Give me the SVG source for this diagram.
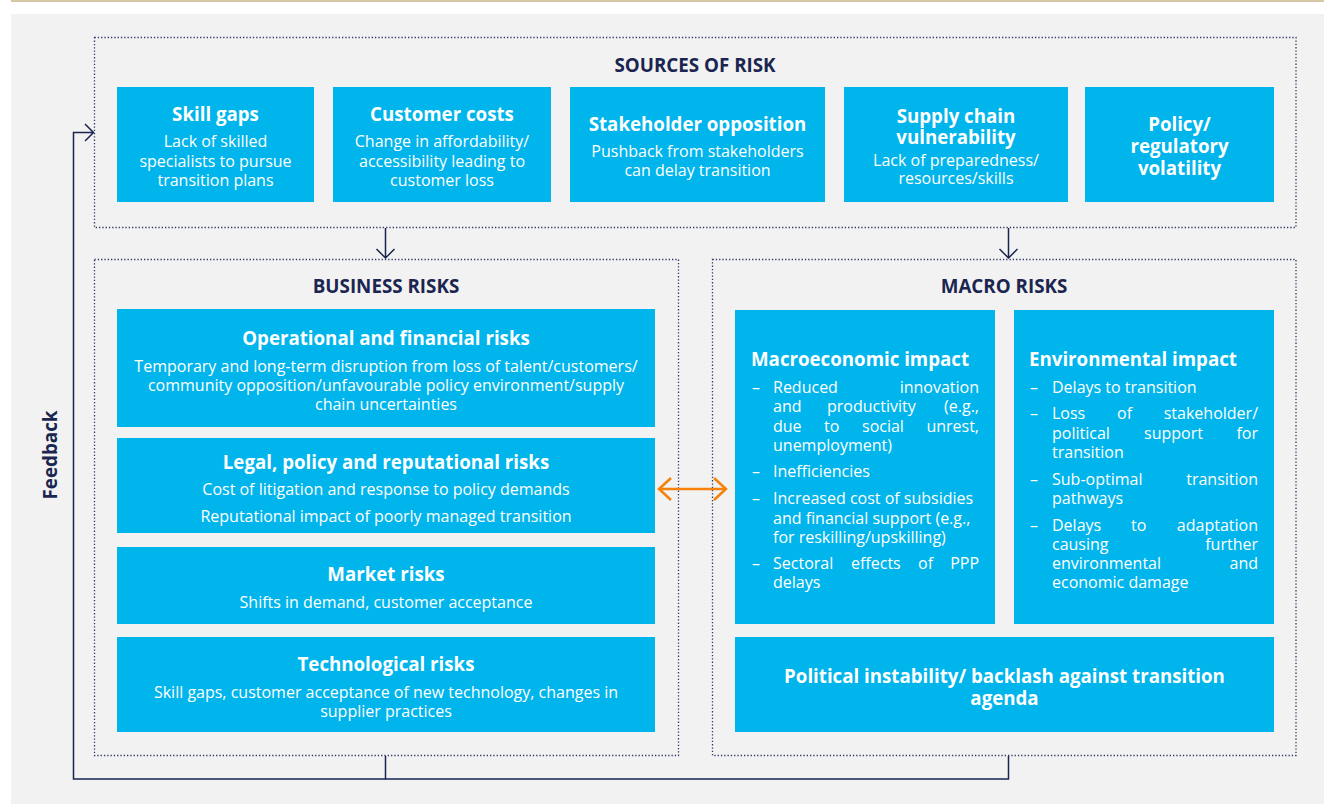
<svg xmlns="http://www.w3.org/2000/svg" width="1324" height="810" viewBox="0 0 1324 810">
<defs>
<style>
.box{fill:#00b5ec}
.frame{fill:none;stroke:#2e3766;stroke-width:1.3;stroke-dasharray:1.3 2}
.hd{font-family:"Open Sans","Noto Sans",sans-serif;font-weight:700;font-size:18.8px;fill:#1a2550;text-anchor:middle}
.tt{font-family:"Open Sans","Noto Sans",sans-serif;font-weight:700;font-size:18.7px;fill:#ffffff;text-anchor:middle}
.tl{font-family:"Open Sans","Noto Sans",sans-serif;font-weight:700;font-size:18.7px;fill:#ffffff}
.bd{font-family:"Open Sans","Noto Sans",sans-serif;font-size:16px;fill:#ffffff;text-anchor:middle}
.bl{font-family:"Open Sans","Noto Sans",sans-serif;font-size:16px;fill:#ffffff}
.ln{fill:none;stroke:#1a2550;stroke-width:1.5}
.or{fill:none;stroke:#f5820a;stroke-width:2.5}
</style>
</defs>
<rect x="11" y="14" width="1313" height="790" fill="#f2f2f2"/>
<line x1="11" y1="1" x2="1324" y2="1" stroke="#c8b48a" stroke-width="1.5"/>

<g id="sources">
<rect class="frame" x="94.5" y="37.5" width="1201.5" height="190"/>
<text class="hd" x="695" y="72">SOURCES OF RISK</text>
</g>
<g id="skill-gaps">
<rect class="box" x="117" y="87" width="197" height="115"/>
<text class="tt" x="215.5" y="121">Skill gaps</text>
<text class="bd" x="215.5" y="147">Lack of skilled</text>
<text class="bd" x="215.5" y="167">specialists to pursue</text>
<text class="bd" x="215.5" y="186">transition plans</text>
</g>
<g id="customer-costs">
<rect class="box" x="333" y="87" width="218" height="115"/>
<text class="tt" x="442" y="121">Customer costs</text>
<text class="bd" x="442" y="147">Change in affordability/</text>
<text class="bd" x="442" y="167">accessibility leading to</text>
<text class="bd" x="442" y="186">customer loss</text>
</g>
<g id="stakeholder-opposition">
<rect class="box" x="570" y="87" width="255" height="115"/>
<text class="tt" x="697.5" y="131">Stakeholder opposition</text>
<text class="bd" x="697.5" y="157">Pushback from stakeholders</text>
<text class="bd" x="697.5" y="176">can delay transition</text>
</g>
<g id="supply-chain">
<rect class="box" x="844" y="87" width="224" height="115"/>
<text class="tt" x="956" y="123">Supply chain</text>
<text class="tt" x="956" y="144">vulnerability</text>
<text class="bd" x="956" y="166">Lack of preparedness/</text>
<text class="bd" x="956" y="184">resources/skills</text>
</g>
<g id="policy-volatility">
<rect class="box" x="1085" y="87" width="189" height="115"/>
<text class="tt" x="1179.5" y="131">Policy/</text>
<text class="tt" x="1179.5" y="153">regulatory</text>
<text class="tt" x="1179.5" y="175">volatility</text>
</g>

<g id="business-risks">
<rect class="frame" x="94.5" y="259.5" width="584" height="496"/>
<text class="hd" x="386" y="293">BUSINESS RISKS</text>
</g>
<g id="operational">
<rect class="box" x="117" y="309" width="538" height="118"/>
<text class="tt" x="386" y="345">Operational and financial risks</text>
<text class="bd" x="386" y="372">Temporary and long-term disruption from loss of talent/customers/</text>
<text class="bd" x="386" y="391">community opposition/unfavourable policy environment/supply</text>
<text class="bd" x="386" y="410">chain uncertainties</text>
</g>
<g id="legal">
<rect class="box" x="117" y="438" width="538" height="95"/>
<text class="tt" x="386" y="469">Legal, policy and reputational risks</text>
<text class="bd" x="386" y="495">Cost of litigation and response to policy demands</text>
<text class="bd" x="386" y="522">Reputational impact of poorly managed transition</text>
</g>
<g id="market">
<rect class="box" x="117" y="547" width="538" height="77"/>
<text class="tt" x="386" y="581">Market risks</text>
<text class="bd" x="386" y="608">Shifts in demand, customer acceptance</text>
</g>
<g id="technological">
<rect class="box" x="117" y="637" width="538" height="95"/>
<text class="tt" x="386" y="671">Technological risks</text>
<text class="bd" x="386" y="698">Skill gaps, customer acceptance of new technology, changes in</text>
<text class="bd" x="386" y="717">supplier practices</text>
</g>

<g id="macro-risks">
<rect class="frame" x="712.5" y="259.5" width="583.5" height="496"/>
<text class="hd" x="1004" y="293">MACRO RISKS</text>
</g>
<g id="macroeconomic">
<rect class="box" x="735" y="310" width="260" height="314"/>
<text class="tl" x="751" y="366">Macroeconomic impact</text>
<text class="bl" x="752" y="393">–</text>
<text class="bl" y="393"><tspan x="773">Reduced</tspan><tspan x="979" text-anchor="end">innovation</tspan></text>
<text class="bl" y="412"><tspan x="773">and</tspan><tspan x="827">productivity</tspan><tspan x="979" text-anchor="end">(e.g.,</tspan></text>
<text class="bl" y="432"><tspan x="773">due</tspan><tspan x="824">to</tspan><tspan x="862">social</tspan><tspan x="979" text-anchor="end">unrest,</tspan></text>
<text class="bl" x="773" y="451">unemployment)</text>
<text class="bl" x="752" y="477">–</text>
<text class="bl" x="773" y="477">Inefficiencies</text>
<text class="bl" x="752" y="504">–</text>
<text class="bl" x="773" y="504">Increased cost of subsidies</text>
<text class="bl" x="773" y="524">and financial support (e.g.,</text>
<text class="bl" x="773" y="543">for reskilling/upskilling)</text>
<text class="bl" x="752" y="569">–</text>
<text class="bl" y="569"><tspan x="773">Sectoral</tspan><tspan x="851">effects</tspan><tspan x="918">of</tspan><tspan x="979" text-anchor="end">PPP</tspan></text>
<text class="bl" x="773" y="588">delays</text>
</g>
<g id="environmental">
<rect class="box" x="1014" y="310" width="260" height="314"/>
<text class="tl" x="1029" y="366">Environmental impact</text>
<text class="bl" x="1030" y="393">–</text>
<text class="bl" x="1052" y="393">Delays to transition</text>
<text class="bl" x="1030" y="419">–</text>
<text class="bl" y="419"><tspan x="1052">Loss</tspan><tspan x="1117">of</tspan><tspan x="1258" text-anchor="end">stakeholder/</tspan></text>
<text class="bl" y="439"><tspan x="1052">political</tspan><tspan x="1144">support</tspan><tspan x="1258" text-anchor="end">for</tspan></text>
<text class="bl" x="1052" y="458">transition</text>
<text class="bl" x="1030" y="485">–</text>
<text class="bl" y="485"><tspan x="1052">Sub-optimal</tspan><tspan x="1258" text-anchor="end">transition</tspan></text>
<text class="bl" x="1052" y="504">pathways</text>
<text class="bl" x="1030" y="531">–</text>
<text class="bl" y="531"><tspan x="1052">Delays</tspan><tspan x="1131">to</tspan><tspan x="1258" text-anchor="end">adaptation</tspan></text>
<text class="bl" y="550"><tspan x="1052">causing</tspan><tspan x="1258" text-anchor="end">further</tspan></text>
<text class="bl" y="569"><tspan x="1052">environmental</tspan><tspan x="1258" text-anchor="end">and</tspan></text>
<text class="bl" x="1052" y="588">economic damage</text>
</g>
<g id="political">
<rect class="box" x="735" y="637" width="539" height="95"/>
<text class="tt" x="1004.5" y="683">Political instability/ backlash against transition</text>
<text class="tt" x="1004.5" y="705">agenda</text>
</g>

<g id="connectors">
<path class="ln" d="M385.5 228 V258 M376.5 249 L385.5 258 L394.5 249"/>
<path class="ln" d="M1008.5 228 V258 M999.5 249 L1008.5 258 L1017.5 249"/>
<path class="ln" d="M385.5 756 V779 H73.5 V132.5 H93 M85 124 L93.5 132.5 L85 141"/>
<path class="ln" d="M1008.5 756 V779 H385.5"/>
<path class="or" d="M659 489 H726 M671 478 L659 489 L671 500 M714 478 L726 489 L714 500"/>
<text class="hd" transform="translate(57 455) rotate(-90)">Feedback</text>
</g>
</svg>
